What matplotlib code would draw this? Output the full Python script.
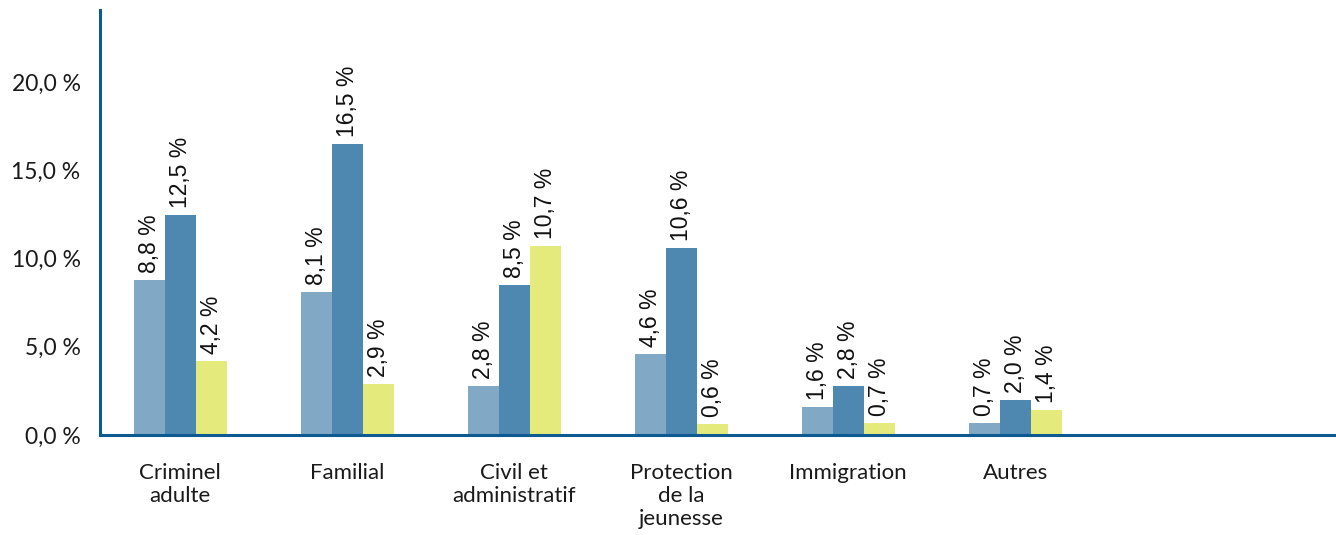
import numpy as np
import matplotlib.pyplot as plt

categories = ["Criminel\nadulte", "Familial", "Civil et\nadministratif",
              "Protection\nde la\njeunesse", "Immigration", "Autres"]
serie_1 = [8.8, 8.1, 2.8, 4.6, 1.6, 0.7]
serie_2 = [12.5, 16.5, 8.5, 10.6, 2.8, 2.0]
serie_3 = [4.2, 2.9, 10.7, 0.6, 0.7, 1.4]
y_ticks = [0, 5, 10, 15, 20]

couleurs = ["#81a9c5", "#4e87b0", "#e4ea7c"]
axe_couleur = "#0c5a91"


def fmt(v):
    return f"{v:.1f}".replace(".", ",") + " %"


fig = plt.figure(figsize=(13.36, 5.35), dpi=100)
ax = fig.add_axes([100 / 1336, 100 / 535, 1236 / 1336, 425 / 535])

x = np.arange(len(categories))
w = 0.186
for i, (serie, c) in enumerate(zip([serie_1, serie_2, serie_3], couleurs)):
    pos = x + (i - 1) * w
    ax.bar(pos, serie, width=w, color=c, zorder=2)
    for px, v in zip(pos, serie):
        ax.text(px, v + 0.4, fmt(v), rotation=90, ha="center", va="bottom",
                fontsize=16.5, family="Liberation Sans", color="#111111")

ax.set_xlim(-0.48, 6.92)
ax.set_ylim(0, 24.1)
ax.set_yticks(y_ticks)
ax.set_yticklabels([fmt(t) for t in y_ticks], family="Lato", fontsize=16.5, color="#1a1a1a")
ax.set_xticks(x)
ax.set_xticklabels(categories, family="Lato", fontsize=16, color="#1a1a1a",
                   linespacing=1.2, va="top")
ax.tick_params(axis="both", length=0)
ax.tick_params(axis="x", pad=20)
ax.tick_params(axis="y", pad=14)

for s in ["top", "right"]:
    ax.spines[s].set_visible(False)
for s in ["left", "bottom"]:
    ax.spines[s].set_color(axe_couleur)
    ax.spines[s].set_linewidth(2.2)

fig.savefig("out.png", dpi=100)
